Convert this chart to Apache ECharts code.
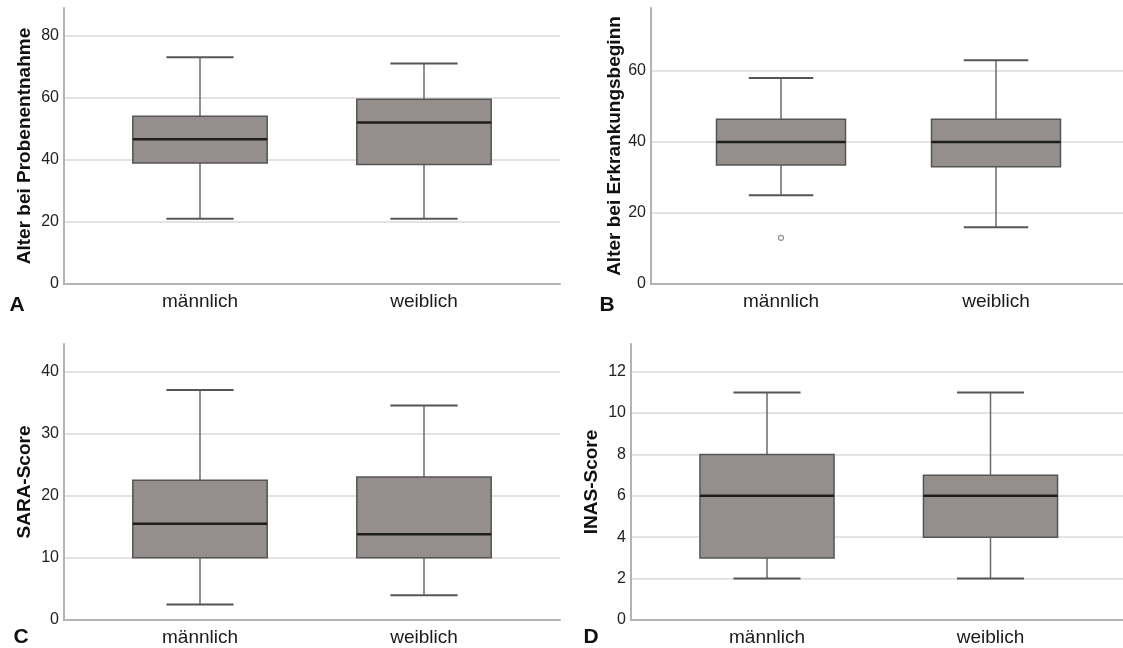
<!DOCTYPE html>
<html>
<head>
<meta charset="utf-8">
<script src="https://cdn.jsdelivr.net/npm/echarts@6/dist/echarts.min.js"></script>
<style>
html,body{margin:0;padding:0;background:#fff;}
#chart{width:1123px;height:648px;}
</style>
</head>
<body>
<div id="chart"></div>
<script>
// ---- data (min, Q1, median, Q3, max) ----
const categories = ['männlich', 'weiblich'];
const alterProbenentnahme = [[21, 39, 46.6, 54, 73], [21, 38.5, 52, 59.5, 71]];
const alterErkrankung = [[25, 33.5, 40, 46.4, 58], [16, 33, 40, 46.4, 63]];
const alterErkrankungOutliers = [[0, 13]];
const saraScore = [[2.5, 10, 15.5, 22.5, 37], [4, 10, 13.8, 23, 34.5]];
const inasScore = [[2, 3, 6, 8, 11], [2, 4, 6, 7, 11]];
const axisTitles = ['Alter bei Probenentnahme', 'Alter bei Erkrankungsbeginn', 'SARA-Score', 'INAS-Score'];
const panelLetters = ['A', 'B', 'C', 'D'];
const tickMax = [80, 60, 40, 12];
const tickStep = [20, 20, 10, 2];
const axisMax = [88.9, 77.7, 44.4, 13.34];

// ---- layout (pixels) ----
const FONT = '"Liberation Sans", Arial, Helvetica, sans-serif';
const panels = [
  {axisX: 64,  right: 560,  top: 8,   y0: 284, tickTop: 35.7, boxLeft: 88,    boxW: 448, nameGap: 30, letter: [17, 305]},
  {axisX: 651, right: 1123, top: 8,   y0: 284, tickTop: 71,   boxLeft: 673.5, boxW: 430, nameGap: 27, letter: [607, 305]},
  {axisX: 64,  right: 560,  top: 344, y0: 620, tickTop: 371.7, boxLeft: 88,   boxW: 448, nameGap: 30, letter: [21, 637]},
  {axisX: 631, right: 1123, top: 344, y0: 620, tickTop: 371.7, boxLeft: 655.25, boxW: 447, nameGap: 30, letter: [591, 637]}
];
const datasets = [alterProbenentnahme, alterErkrankung, saraScore, inasScore];

function renderBox(params, api) {
  const i = api.value(0);
  const lo = api.coord([i, api.value(1)]);
  const q1 = api.coord([i, api.value(2)]);
  const md = api.coord([i, api.value(3)]);
  const q3 = api.coord([i, api.value(4)]);
  const hi = api.coord([i, api.value(5)]);
  const band = api.size([1, 0])[0];
  const bw = band * 0.6, cw = band * 0.3;
  const x = lo[0];
  const wStyle = {stroke: '#6a6a6a', lineWidth: 1.5};
  const cStyle = {stroke: '#555555', lineWidth: 2};
  return {
    type: 'group',
    children: [
      {type: 'line', shape: {x1: x, y1: hi[1], x2: x, y2: q3[1]}, style: wStyle},
      {type: 'line', shape: {x1: x, y1: q1[1], x2: x, y2: lo[1]}, style: wStyle},
      {type: 'line', shape: {x1: x - cw / 2, y1: hi[1], x2: x + cw / 2, y2: hi[1]}, style: cStyle},
      {type: 'line', shape: {x1: x - cw / 2, y1: lo[1], x2: x + cw / 2, y2: lo[1]}, style: cStyle},
      {type: 'rect', shape: {x: x - bw / 2, y: q3[1], width: bw, height: q1[1] - q3[1]},
        style: {fill: '#948f8d', stroke: '#555555', lineWidth: 1.5}},
      {type: 'line', shape: {x1: x - bw / 2, y1: md[1], x2: x + bw / 2, y2: md[1]},
        style: {stroke: '#1e1e1e', lineWidth: 2.5}}
    ]
  };
}

const grid = [], xAxis = [], yAxis = [], series = [], graphic = [];
panels.forEach((p, k) => {
  const gTick = grid.length;
  grid.push({left: p.axisX, top: p.tickTop, width: p.right - p.axisX, height: p.y0 - p.tickTop, containLabel: false});
  const gBox = grid.length;
  grid.push({left: p.boxLeft, top: p.top, width: p.boxW, height: p.y0 - p.top, containLabel: false});

  // tick grid: labels, gridlines, x axis line
  xAxis.push({gridIndex: gTick, type: 'value', min: 0, max: 1, show: true,
    axisLine: {show: true, onZero: false, lineStyle: {color: '#b3b3b3', width: 2}},
    axisTick: {show: false}, axisLabel: {show: false}, splitLine: {show: false}});
  yAxis.push({gridIndex: gTick, type: 'value', min: 0, max: tickMax[k], interval: tickStep[k],
    axisLine: {show: false}, axisTick: {show: false},
    axisLabel: {show: true, margin: 5, color: '#222', fontSize: 16, fontFamily: FONT},
    splitLine: {show: true, lineStyle: {color: '#dadada', width: 1.5}}});

  // box grid: categories, y axis line, axis title
  xAxis.push({gridIndex: gBox, type: 'category', data: categories, boundaryGap: true,
    axisLine: {show: false}, axisTick: {show: false},
    axisLabel: {show: true, margin: 8, color: '#1a1a1a', fontSize: 19, fontFamily: FONT},
    splitLine: {show: false}});
  yAxis.push({gridIndex: gBox, type: 'value', min: 0, max: axisMax[k], offset: p.boxLeft - p.axisX,
    name: axisTitles[k], nameLocation: 'middle', nameGap: p.nameGap,
    nameTextStyle: {color: '#111', fontSize: 19, fontWeight: 'bold', fontFamily: FONT},
    axisLine: {show: true, lineStyle: {color: '#b3b3b3', width: 2}},
    axisTick: {show: false}, axisLabel: {show: false}, splitLine: {show: false}});

  const xi = xAxis.length - 1, yi = yAxis.length - 1;
  series.push({type: 'custom', xAxisIndex: xi, yAxisIndex: yi, renderItem: renderBox,
    encode: {x: 0, y: [1, 2, 3, 4, 5]},
    data: datasets[k].map((v, i) => [i].concat(v)), z: 3, silent: true});
  if (k === 1) {
    series.push({type: 'scatter', xAxisIndex: xi, yAxisIndex: yi, data: alterErkrankungOutliers,
      symbol: 'circle', symbolSize: 5, itemStyle: {color: '#fff', borderColor: '#777', borderWidth: 1.2}, z: 4, silent: true});
  }

  graphic.push({type: 'text', x: p.letter[0], y: p.letter[1],
    style: {text: panelLetters[k], fill: '#111', font: 'bold 21px ' + FONT, align: 'center', verticalAlign: 'middle'}});
});

const chart = echarts.init(document.getElementById('chart'), null, {renderer: 'canvas'});
chart.setOption({
  backgroundColor: '#ffffff',
  animation: false,
  grid: grid,
  xAxis: xAxis,
  yAxis: yAxis,
  series: series,
  graphic: graphic
});
</script>
</body>
</html>
